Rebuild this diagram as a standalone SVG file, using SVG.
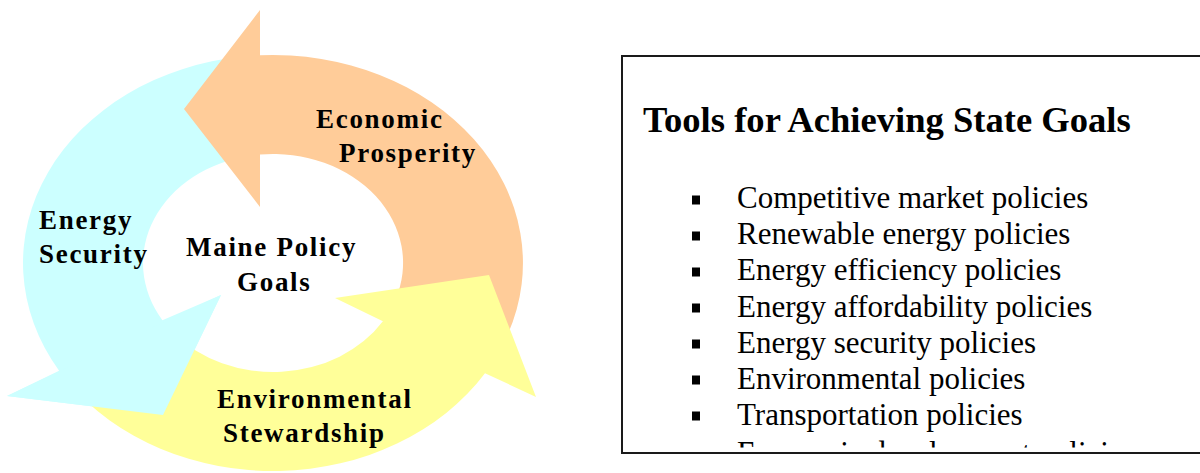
<svg xmlns="http://www.w3.org/2000/svg" xmlns:xlink="http://www.w3.org/1999/xlink" width="1200" height="473" viewBox="0 0 1200 473">
  <style>
    .lbl { font-family: "Liberation Serif", "Times New Roman", serif; font-weight: bold; font-size: 27px; letter-spacing: 1.7px; fill: #000; }
    .title { font-family: "Liberation Serif", "Times New Roman", serif; font-weight: bold; font-size: 36.6px; fill: #000; }
    .item { font-family: "Liberation Serif", "Times New Roman", serif; font-size: 31px; fill: #000; }
    .bul { fill: #000; }
    .cyan { fill: #CCFFFF; }
    .orange { fill: #FFCC99; }
    .yellow { fill: #FFFF99; }
  </style>
  <defs>
    <polygon id="cyan-head" points="7,396 163,415 221,295"/>
    <clipPath id="boxclip">
      <rect x="622" y="56" width="600" height="391.5"/>
    </clipPath>
  </defs>
  <rect width="1200" height="473" fill="#ffffff"/>

  <g id="energy-security">
    <path class="cyan" d="M242.5,56.6 A250,208 0 0 0 59.1,370.7 L7,396 L163,415 L221,295 L162.4,320.3 A130,109 0 0 1 250.4,155.7 Z"/>
  </g>
  <g id="economic-prosperity">
    <path class="orange" d="M507.9,334.1 A250,208 0 0 0 260,55.3 L260,10 L184,109 L260,207 L260,154.5 A130,109 0 0 1 395.2,300.3 Z"/>
  </g>
  <g id="environmental-stewardship">
    <path class="yellow" d="M68.2,382.3 A250,208 0 0 0 485,373.2 L536,397 L489,275 L335,298 L382.9,321.2 A130,109 0 0 1 173.4,333.1 Z"/>
  </g>
  <g id="energy-security-head">
    <use xlink:href="#cyan-head" href="#cyan-head" class="cyan"/>
  </g>

  <g id="labels">
    <text class="lbl" x="39" y="229">Energy</text>
    <text class="lbl" x="39" y="263">Security</text>
    <text class="lbl" x="316" y="128">Economic</text>
    <text class="lbl" x="339" y="162">Prosperity</text>
    <text class="lbl" x="217" y="408">Environmental</text>
    <text class="lbl" x="223" y="442">Stewardship</text>
  </g>
  <g id="center-goals">
    <text class="lbl" x="186" y="256">Maine Policy</text>
    <text class="lbl" x="237" y="291">Goals</text>
  </g>

  <g id="tools-box">
    <rect x="622" y="56" width="640" height="397" fill="#ffffff"/>
    <text class="title" x="643" y="131.5">Tools for Achieving State Goals</text>
    <g clip-path="url(#boxclip)">
      <rect class="bul" x="692" y="195.5" width="8" height="9"/>
      <text class="item" x="737" y="208">Competitive market policies</text>
      <rect class="bul" x="692" y="231.5" width="8" height="9"/>
      <text class="item" x="737" y="244">Renewable energy policies</text>
      <rect class="bul" x="692" y="267.5" width="8" height="9"/>
      <text class="item" x="737" y="280">Energy efficiency policies</text>
      <rect class="bul" x="692" y="303.5" width="8" height="9"/>
      <text class="item" x="737" y="316.5">Energy affordability policies</text>
      <rect class="bul" x="692" y="339.5" width="8" height="9"/>
      <text class="item" x="737" y="352.5">Energy security policies</text>
      <rect class="bul" x="692" y="375.5" width="8" height="9"/>
      <text class="item" x="737" y="388.5">Environmental policies</text>
      <rect class="bul" x="692" y="411.5" width="8" height="9"/>
      <text class="item" x="737" y="424.5">Transportation policies</text>
      <rect class="bul" x="692" y="450" width="8" height="9"/>
      <text class="item" x="737" y="463">Economic development policies</text>
    </g>
    <rect x="622" y="56" width="640" height="397" fill="none" stroke="#1a1a1a" stroke-width="2"/>
  </g>
</svg>
